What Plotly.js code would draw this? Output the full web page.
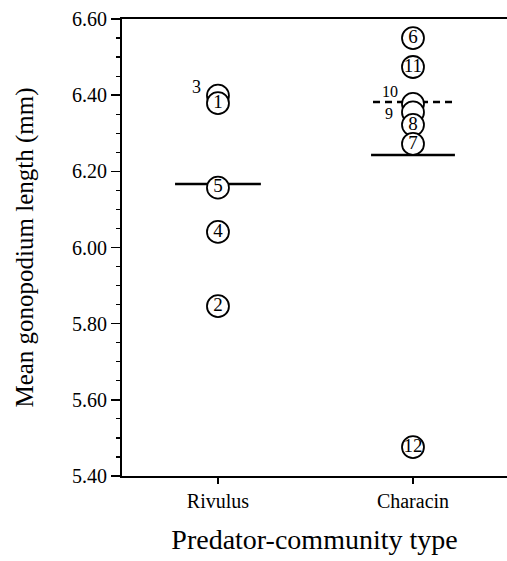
<!DOCTYPE html>
<html>
<head>
<meta charset="utf-8">
<script src="https://cdn.plot.ly/plotly-3.0.1.min.js"></script>
<style>html,body{margin:0;padding:0;background:#fff;}#chart{width:507px;height:561px;}</style>
</head>
<body>
<div id="chart"></div>
<script>
// Data
var categories = ["Rivulus", "Characin"];
var rivulusIds    = ["3", "1", "5", "4", "2"];
var rivulusValues = [6.399, 6.379, 6.157, 6.041, 5.846];
var characinIds    = ["6", "11", "10", "9", "8", "7", "12"];
var characinValues = [6.550, 6.474, 6.377, 6.355, 6.322, 6.272, 5.476];
var rivulusMean = 6.167;
var characinMean = 6.243;
var characinMeanExcl12 = 6.382;
// labels drawn beside (not inside) their circles
var outsideIds = ["3", "10", "9"];

var FONT = "Liberation Serif, Times New Roman, serif";
var BLACK = "rgb(0,0,0)";

function pointTrace(catIndex, ids, vals) {
  return {
    type: "scatter",
    mode: "markers+text",
    x: vals.map(function(){ return catIndex; }),
    y: vals,
    text: ids.map(function(id){ return outsideIds.indexOf(id) >= 0 ? "" : id; }),
    textposition: "middle center",
    textfont: {family: FONT, size: 19, color: BLACK},
    marker: {symbol: "circle", size: 22, color: "#fff", line: {color: BLACK, width: 1.8}},
    cliponaxis: false,
    hoverinfo: "skip",
    showlegend: false
  };
}
function meanLine(catIndex, val, half, dash) {
  return {
    type: "scatter", mode: "lines",
    x: [catIndex - half, catIndex + half],
    y: [val, val],
    line: {color: BLACK, width: 2.5, dash: dash || "solid"},
    hoverinfo: "skip", showlegend: false
  };
}

var data = [
  meanLine(0, rivulusMean, 0.22),
  meanLine(1, characinMean, 0.215),
  meanLine(1, characinMeanExcl12, 0.205, "7px,5px"),
  pointTrace(0, rivulusIds, rivulusValues),
  pointTrace(1, characinIds, characinValues)
];

// side labels as annotations anchored to their data points
var sideStyle = {"3": [-21, 9, 18], "10": [-23, 12, 16], "9": [-24, -1, 16]};
var annotations = [];
[[0, rivulusIds, rivulusValues], [1, characinIds, characinValues]].forEach(function(g){
  g[1].forEach(function(id, k){
    if (outsideIds.indexOf(id) >= 0) {
      annotations.push({
        x: g[0], y: g[2][k], xref: "x", yref: "y",
        text: id, showarrow: false,
        xshift: sideStyle[id][0], yshift: sideStyle[id][1],
        borderpad: 0,
        font: {family: FONT, size: sideStyle[id][2], color: BLACK}
      });
    }
  });
});

var layout = {
  width: 507, height: 561,
  margin: {l: 122, r: 0, t: 19, b: 85},
  paper_bgcolor: "#fff", plot_bgcolor: "#fff",
  font: {family: FONT, color: BLACK},
  annotations: annotations,
  xaxis: {
    range: [-0.492, 1.482],
    tickvals: categories.map(function(c, i){ return i; }),
    ticktext: categories,
    ticks: "outside", ticklen: 6, tickwidth: 1.5, tickcolor: BLACK,
    showline: true, linecolor: BLACK, linewidth: 2, mirror: true,
    showgrid: false, zeroline: false,
    tickfont: {family: FONT, size: 20, color: BLACK},
    title: {text: "Predator-community type", font: {family: FONT, size: 28, color: BLACK}, standoff: 18}
  },
  yaxis: {
    range: [5.40, 6.60],
    tick0: 5.40, dtick: 0.2, tickformat: ".2f",
    ticks: "outside", ticklen: 9, tickwidth: 1.5, tickcolor: BLACK,
    minor: {dtick: 0.05, ticks: "outside", ticklen: 4, tickwidth: 1.2, tickcolor: BLACK, showgrid: false},
    showline: true, linecolor: BLACK, linewidth: 2,
    showgrid: false, zeroline: false,
    tickfont: {family: FONT, size: 20, color: BLACK},
    title: {text: "Mean gonopodium length (mm)", font: {family: FONT, size: 25, color: BLACK}, standoff: 31}
  }
};

Plotly.newPlot("chart", data, layout, {staticPlot: true, displayModeBar: false});
</script>
</body>
</html>
